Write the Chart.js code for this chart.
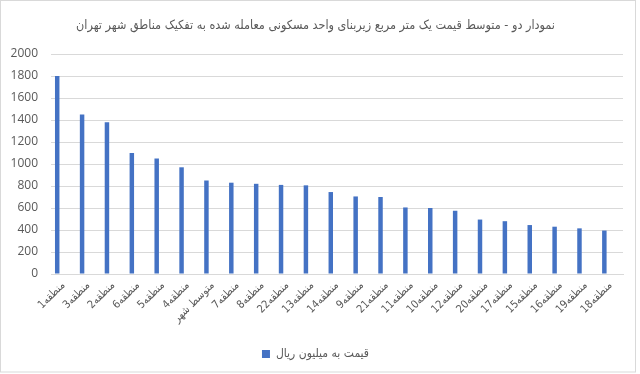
<!DOCTYPE html>
<html>
<head>
<meta charset="utf-8">
<script src="https://cdn.jsdelivr.net/npm/chart.js@4/dist/chart.umd.min.js"></script>
<style>
html,body{margin:0;padding:0;background:#fff;}
#wrap{width:640px;height:374px;position:relative;}
</style>
</head>
<body>
<div id="wrap"><canvas id="c" width="640" height="374"></canvas></div>
<script>
const chartTitle = "نمودار دو - متوسط قیمت یک متر مربع زیربنای واحد مسکونی معامله شده به تفکیک مناطق شهر تهران";
const categories = ["منطقه1","منطقه3","منطقه2","منطقه6","منطقه5","منطقه4","متوسط شهر","منطقه7","منطقه8","منطقه22","منطقه13","منطقه14","منطقه9","منطقه21","منطقه11","منطقه10","منطقه12","منطقه20","منطقه17","منطقه15","منطقه16","منطقه19","منطقه18"];
const seriesName = "قیمت به میلیون ریال";
const priceValues = [1800,1450,1380,1100,1050,970,850,830,820,810,806,745,705,700,605,600,575,495,480,445,430,415,395];
const emptySeries = [];
const yTicks = [0,200,400,600,800,1000,1200,1400,1600,1800,2000];

const FONT = "'Open Sans', 'DejaVu Sans', sans-serif";
const TFONT = "'DejaVu Sans Condensed', 'DejaVu Sans', sans-serif";
const GRAY = "#595959";

const frame = {
  id: 'frame',
  beforeDraw(chart){
    const ctx = chart.ctx;
    ctx.save();
    ctx.fillStyle = '#fff';
    ctx.fillRect(0,0,chart.width,chart.height);
    ctx.strokeStyle = '#d9d9d9';
    ctx.lineWidth = 1;
    ctx.strokeRect(0.5,0.5,635,371.5);
    ctx.restore();
  }
};

new Chart(document.getElementById('c'), {
  type: 'bar',
  data: {
    labels: categories,
    datasets: [
      {label: seriesName, data: priceValues, backgroundColor: '#4472c4', borderWidth: 0,
       categoryPercentage: 1.0, barPercentage: 0.36},
      {label: '', data: emptySeries, backgroundColor: 'rgba(0,0,0,0)',
       categoryPercentage: 1.0, barPercentage: 0.36}
    ]
  },
  options: {
    responsive: false,
    animation: false,
    devicePixelRatio: 1,
    layout: {padding: {left: 8, right: 17, top: 6, bottom: 4}},
    plugins: {
      title: {display: true, text: chartTitle, color: GRAY,
        font: {family: TFONT, size: 12.5, weight: 'normal'}, padding: {top: 12, bottom: 21}},
      legend: {display: true, position: 'bottom',
        labels: {color: GRAY, font: {family: TFONT, size: 12}, boxWidth: 8, boxHeight: 8,
          padding: 10, filter: (item) => item.datasetIndex === 0}},
      tooltip: {enabled: false}
    },
    scales: {
      x: {
        grid: {display: false, drawTicks: false},
        border: {display: true, color: '#d9d9d9'},
        ticks: {color: GRAY, font: {family: TFONT, size: 11}, maxRotation: 45, minRotation: 45, padding: 5, autoSkip: false},
        afterFit(s){ s.height = 64; }
      },
      y: {
        min: 0, max: 2000,
        afterBuildTicks(s){ s.ticks = yTicks.map(v => ({value: v})); },
        grid: {color: '#d9d9d9', drawTicks: false},
        border: {display: false},
        ticks: {color: GRAY, font: {family: FONT, size: 12}, padding: 13, callback: (v) => String(v)},
        afterFit(s){ s.width = 43; }
      }
    }
  },
  plugins: [frame]
});
</script>
</body>
</html>
